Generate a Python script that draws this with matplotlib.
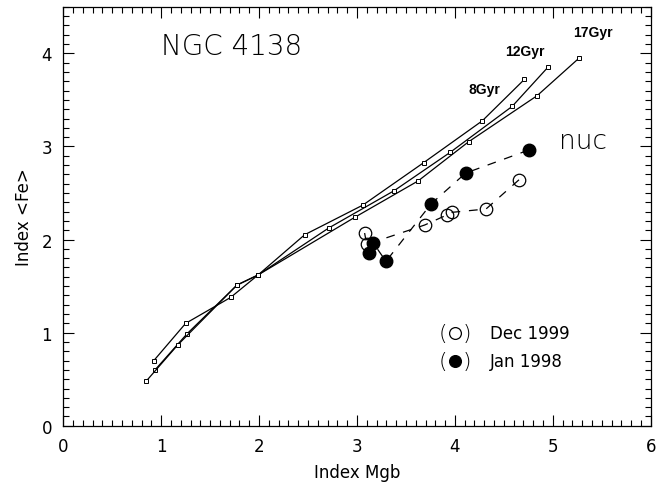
import matplotlib
matplotlib.use("Agg")
import matplotlib.pyplot as plt
from matplotlib.ticker import MultipleLocator

plt.rcParams['font.family'] = ['DejaVu Sans']

# model grids (Index Mgb, Index <Fe>)
mgb_8 = [0.923, 1.250, 1.710, 1.990, 2.466, 3.060, 3.680, 4.280, 4.710]
fe_8 = [0.698, 1.100, 1.379, 1.620, 2.052, 2.370, 2.825, 3.275, 3.720]
mgb_12 = [0.937, 1.264, 1.774, 1.990, 2.711, 3.380, 3.950, 4.585, 4.950]
fe_12 = [0.600, 0.988, 1.511, 1.620, 2.124, 2.525, 2.935, 3.430, 3.850]
mgb_17 = [0.845, 1.168, 1.774, 1.990, 2.976, 3.625, 4.140, 4.840, 5.270]
fe_17 = [0.477, 0.867, 1.511, 1.620, 2.238, 2.630, 3.050, 3.545, 3.950]
age_labels = ['8Gyr', '12Gyr', '17Gyr']
age_label_pos = [(4.30, 3.62), (4.71, 4.03), (5.41, 4.23)]

# observations
jan98_mgb = [4.754, 4.110, 3.759, 3.296, 3.167, 3.119]
jan98_fe = [2.961, 2.714, 2.385, 1.766, 1.962, 1.858]
dec99_mgb = [4.655, 4.318, 3.967, 3.916, 3.691, 3.099, 3.078]
dec99_fe = [2.642, 2.328, 2.292, 2.263, 2.156, 1.948, 2.070]

fig = plt.figure(figsize=(6.66, 4.85), dpi=100)
ax = fig.add_axes([0.095, 0.120, 0.882, 0.864])

for xs, ys in [(mgb_8, fe_8), (mgb_12, fe_12), (mgb_17, fe_17)]:
    ax.plot(xs, ys, color='black', lw=0.9, marker='s', ms=2.6,
            mfc='white', mec='black', mew=0.7)

for lab, (tx, ty) in zip(age_labels, age_label_pos):
    ax.text(tx, ty, lab, fontsize=10, fontweight='bold', ha='center', va='center',
            family=['Liberation Sans'])

ax.plot(dec99_mgb, dec99_fe, color='black', lw=0.9, ls=(0, (7, 7)),
        marker='o', ms=9, mfc='none', mec='black', mew=0.9)
ax.plot(jan98_mgb, jan98_fe, color='black', lw=0.9, ls=(0, (7, 7)),
        marker='o', ms=9, mfc='black', mec='black')

ax.text(1.0, 4.08, 'NGC 4138', fontsize=20, fontweight='light', va='center', ha='left')
ax.text(5.06, 3.06, 'nuc', fontsize=19, fontweight='light', va='center', ha='left')

# legend drawn by hand like the original
leg_y = [1.00, 0.70]
leg_fill = ['none', 'black']
leg_text = ['Dec 1999', 'Jan 1998']
for ly, fc, lt in zip(leg_y, leg_fill, leg_text):
    ax.text(3.875, ly, '(', fontsize=16, va='center', ha='center', fontweight='light')
    ax.text(4.125, ly, ')', fontsize=16, va='center', ha='center', fontweight='light')
    ax.plot([4.0], [ly], marker='o', ms=8.5, mfc=fc, mec='black', mew=0.9)
    ax.text(4.36, ly, lt, fontsize=12, va='center', ha='left')

ax.set_xlim(0, 6)
ax.set_ylim(0, 4.5)
ax.xaxis.set_major_locator(MultipleLocator(1))
ax.xaxis.set_minor_locator(MultipleLocator(0.1))
ax.yaxis.set_major_locator(MultipleLocator(1))
ax.yaxis.set_minor_locator(MultipleLocator(0.1))
ax.tick_params(which='both', direction='in', top=True, right=True, width=0.8)
ax.tick_params(which='major', length=8, labelsize=12, pad=8)
ax.tick_params(which='minor', length=4)
for s in ax.spines.values():
    s.set_linewidth(0.9)

ax.set_xlabel('Index Mgb', fontsize=12, labelpad=6)
ax.set_ylabel('Index <Fe>', fontsize=12, labelpad=6)

fig.savefig('out.png', dpi=100)
